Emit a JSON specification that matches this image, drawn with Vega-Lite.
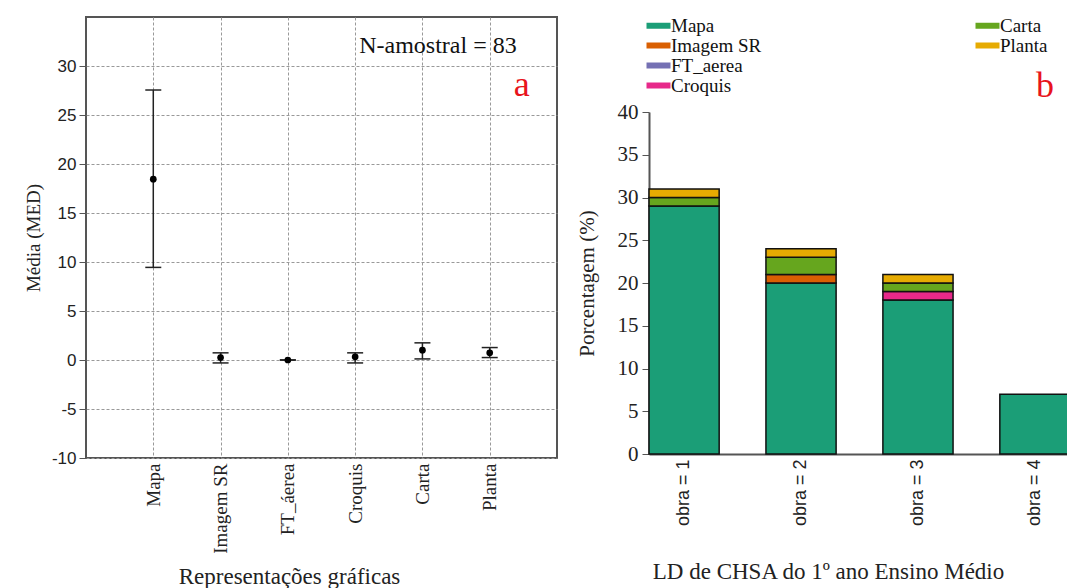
{
  "$schema": "https://vega.github.io/schema/vega-lite/v6.json",
  "background": "white",
  "padding": {"left": 23, "top": 16, "right": 0, "bottom": 0},
  "config": {
    "font": "Liberation Serif",
    "view": {"stroke": "#555", "strokeWidth": 2},
    "concat": {"spacing": 18},
    "axis": {"titleFontWeight": "normal", "titleColor": "#222", "labelColor": "#222"}
  },
  "resolve": {"legend": {"color": "independent"}, "scale": {"color": "independent"}},
  "datasets": {
    "med": [
      {"rep": "Mapa", "media": 18.45, "lo": 9.45, "hi": 27.55},
      {"rep": "Imagem SR", "media": 0.25, "lo": -0.3, "hi": 0.73},
      {"rep": "FT_áerea", "media": 0.0, "lo": 0.0, "hi": 0.0},
      {"rep": "Croquis", "media": 0.32, "lo": -0.3, "hi": 0.73},
      {"rep": "Carta", "media": 1.0, "lo": 0.11, "hi": 1.75},
      {"rep": "Planta", "media": 0.73, "lo": 0.25, "hi": 1.27}
    ],
    "notaA": [
      {"rep": "Planta", "y": 31.35, "txt": "N-amostral  = 83", "tipo": "n"},
      {"rep": "Planta", "y": 26.97, "txt": "a", "tipo": "letra"}
    ],
    "pct": [
      {"obra": "obra = 1", "tipo": "Mapa", "k": 1, "pct": 29},
      {"obra": "obra = 1", "tipo": "Carta", "k": 5, "pct": 1},
      {"obra": "obra = 1", "tipo": "Planta", "k": 6, "pct": 1},
      {"obra": "obra = 2", "tipo": "Mapa", "k": 1, "pct": 20},
      {"obra": "obra = 2", "tipo": "Imagem SR", "k": 2, "pct": 1},
      {"obra": "obra = 2", "tipo": "Carta", "k": 5, "pct": 2},
      {"obra": "obra = 2", "tipo": "Planta", "k": 6, "pct": 1},
      {"obra": "obra = 3", "tipo": "Mapa", "k": 1, "pct": 18},
      {"obra": "obra = 3", "tipo": "Croquis", "k": 4, "pct": 1},
      {"obra": "obra = 3", "tipo": "Carta", "k": 5, "pct": 1},
      {"obra": "obra = 3", "tipo": "Planta", "k": 6, "pct": 1},
      {"obra": "obra = 4", "tipo": "Mapa", "k": 1, "pct": 7}
    ],
    "notaB": [
      {"obra": "obra = 4", "y": 43.0, "txt": "b"}
    ]
  },
  "hconcat": [
    {
      "width": 471,
      "height": 441,
      "encoding": {
        "x": {
          "field": "rep", "type": "nominal", "sort": null,
          "scale": {"type": "point", "padding": 1, "domain": ["Mapa", "Imagem SR", "FT_áerea", "Croquis", "Carta", "Planta"]},
          "axis": {
            "title": "Representações gráficas",
            "grid": true, "gridDash": [3, 2], "gridColor": "#999",
            "labelAngle": -90, "labelFont": "Liberation Serif", "labelFontSize": 19, "labelPadding": 5,
            "ticks": false, "domain": false,
            "titleFont": "Liberation Serif", "titleFontSize": 23, "titlePadding": 12, "titleX": 203
          }
        }
      },
      "layer": [
        {
          "data": {"name": "med"},
          "mark": {"type": "rule", "color": "#222", "strokeWidth": 1.5},
          "encoding": {
            "y": {
              "field": "lo", "type": "quantitative", "title": "Média (MED)",
              "scale": {"domain": [-10, 35], "nice": false, "zero": false},
              "axis": {
                "values": [-10, -5, 0, 5, 10, 15, 20, 25, 30],
                "labelExpr": "'' + datum.value",
                "grid": true, "gridDash": [3, 2], "gridColor": "#999",
                "tickSize": 7, "tickColor": "#555", "domain": false,
                "labelFont": "Liberation Sans Narrow, Liberation Sans", "labelFontSize": 17, "labelPadding": 3,
                "titleFont": "Liberation Serif", "titleFontSize": 19, "titlePadding": 8
              }
            },
            "y2": {"field": "hi"}
          }
        },
        {
          "data": {"name": "med"},
          "mark": {"type": "tick", "orient": "horizontal", "size": 16, "thickness": 1.5, "color": "#222", "opacity": 1},
          "encoding": {"y": {"field": "lo", "type": "quantitative", "title": "Média (MED)"}}
        },
        {
          "data": {"name": "med"},
          "mark": {"type": "tick", "orient": "horizontal", "size": 16, "thickness": 1.5, "color": "#222", "opacity": 1},
          "encoding": {"y": {"field": "hi", "type": "quantitative", "title": "Média (MED)"}}
        },
        {
          "data": {"name": "med"},
          "mark": {"type": "point", "filled": true, "color": "#000", "size": 45, "opacity": 1},
          "encoding": {"y": {"field": "media", "type": "quantitative", "title": "Média (MED)"}}
        },
        {
          "data": {"name": "notaA"},
          "transform": [{"filter": "datum.tipo == 'n'"}],
          "mark": {"type": "text", "align": "right", "baseline": "alphabetic", "fontSize": 24, "dx": 27, "color": "#111", "font": "Liberation Serif"},
          "encoding": {
            "y": {"field": "y", "type": "quantitative", "title": "Média (MED)"},
            "text": {"field": "txt"}
          }
        },
        {
          "data": {"name": "notaA"},
          "transform": [{"filter": "datum.tipo == 'letra'"}],
          "mark": {"type": "text", "align": "center", "baseline": "alphabetic", "fontSize": 36, "dx": 32, "color": "#e8141c", "font": "Liberation Serif"},
          "encoding": {
            "y": {"field": "y", "type": "quantitative", "title": "Média (MED)"},
            "text": {"field": "txt"}
          }
        }
      ]
    },
    {
      "width": 421,
      "height": 437,
      "view": {"stroke": null},
      "encoding": {
        "y": {
          "type": "quantitative", "title": "Porcentagem (%)",
          "scale": {"domain": [0, 40], "nice": false, "range": [437, 95]},
          "axis": {
            "values": [0, 5, 10, 15, 20, 25, 30, 35, 40],
            "grid": false, "tickSize": 7, "tickColor": "#555",
            "domain": true, "domainColor": "#555", "domainWidth": 2,
            "labelFont": "Liberation Serif", "labelFontSize": 21, "labelPadding": 4,
            "titleFont": "Liberation Serif", "titleFontSize": 21, "titlePadding": 20
          }
        }
      },
      "layer": [
        {
          "data": {"name": "pct"},
          "mark": {"type": "bar", "stroke": "#111", "strokeWidth": 1.5, "opacity": 1},
          "encoding": {
            "x": {
              "field": "obra", "type": "nominal", "sort": null,
              "scale": {"paddingInner": 0.4, "paddingOuter": 0},
              "axis": {
                "title": "LD de CHSA do 1º ano Ensino Médio",
                "labelAngle": -90, "labelFont": "Liberation Sans", "labelFontSize": 18, "labelPadding": 5,
                "ticks": false, "domain": true, "domainColor": "#555", "domainWidth": 2,
                "titleFont": "Liberation Serif", "titleFontSize": 23, "titlePadding": 35, "titleX": 179
              }
            },
            "y": {"field": "pct", "stack": "zero"},
            "color": {
              "field": "tipo", "type": "nominal",
              "scale": {
                "domain": ["Mapa", "Imagem SR", "FT_aerea", "Croquis", "Carta", "Planta", "_"],
                "range": ["#1b9e77", "#d95f02", "#7570b3", "#e7298a", "#66a61e", "#e6ab02", "transparent"]
              },
              "legend": {
                "orient": "none", "legendX": 0, "legendY": -1,
                "columns": 2, "columnPadding": 213, "rowPadding": 0,
                "title": null,
                "symbolType": "M-4,-1H4V1H-4Z", "symbolSize": 36, "symbolStrokeWidth": 0, "symbolOpacity": 1,
                "labelFont": "Liberation Serif", "labelFontSize": 19, "labelColor": "#111", "labelOffset": 3,
                "labelExpr": "datum.value == '_' ? '' : datum.label"
              }
            },
            "order": {"field": "k", "type": "quantitative"}
          }
        },
        {
          "mark": {"type": "rule", "color": "#555", "strokeWidth": 2},
          "encoding": {"y": {"datum": 40}}
        },
        {
          "data": {"name": "notaB"},
          "mark": {"type": "text", "align": "center", "baseline": "middle", "fontSize": 36, "dx": 10, "color": "#e8141c", "font": "Liberation Serif"},
          "encoding": {
            "x": {"field": "obra", "type": "nominal", "sort": null},
            "y": {"field": "y"},
            "text": {"field": "txt"}
          }
        }
      ]
    }
  ]
}
